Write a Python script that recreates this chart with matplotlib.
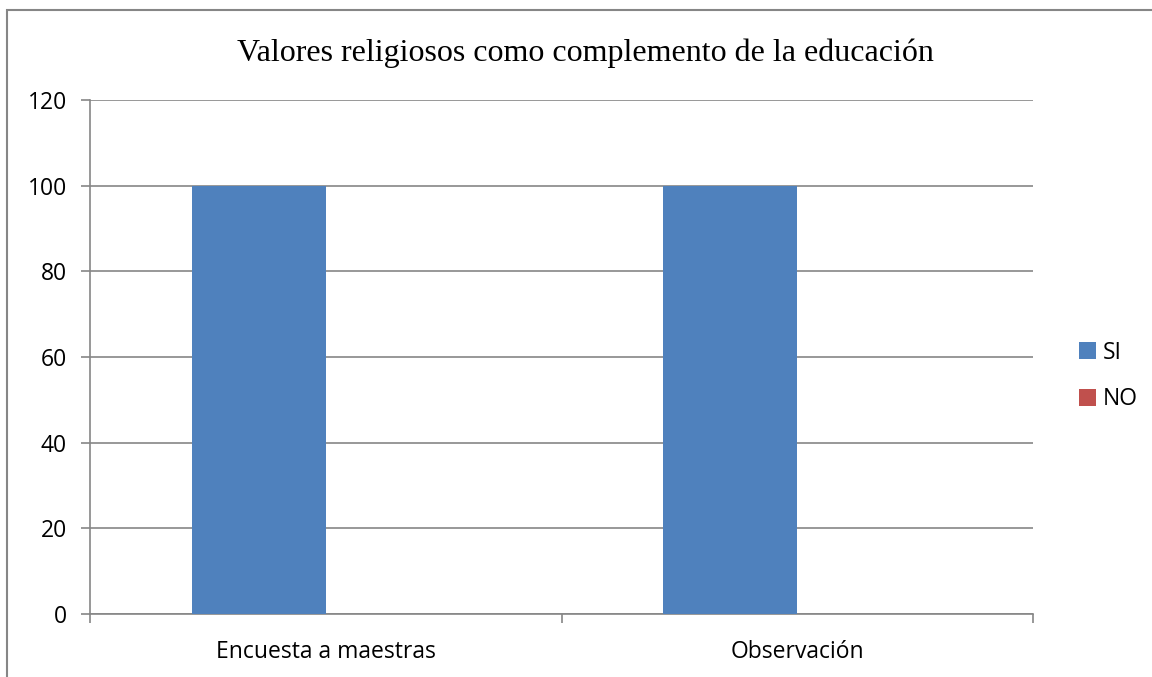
import numpy as np
import matplotlib.pyplot as plt
from matplotlib.patches import Rectangle

# datos
categorias = ["Encuesta a maestras", "Observación"]
si_vals = [100, 100]
no_vals = [0, 0]
series = ["SI", "NO"]
colores = ["#4F81BD", "#C0504D"]
titulo = "Valores religiosos como complemento de la educación"
yticks = [0, 20, 40, 60, 80, 100, 120]

W, H = 1152, 677
fig = plt.figure(figsize=(W / 100, H / 100), dpi=100)
fig.patch.set_facecolor("white")

# marco del grafico (sale por la derecha y abajo)
fig.patches.append(Rectangle((7 / W, -0.1), 1.2, 1 - 10 / H + 0.1,
                             transform=fig.transFigure, fill=False,
                             edgecolor="#868686", lw=1.5))

ax = fig.add_axes([90 / W, 63 / H, (1033 - 90) / W, (614 - 100) / H])

x = np.arange(len(categorias))
w = 0.284
ax.bar(x - w / 2, si_vals, w, color=colores[0], label=series[0], zorder=3)
ax.bar(x + w / 2, no_vals, w, color=colores[1], label=series[1], zorder=3)

ax.set_xlim(-0.5, len(categorias) - 0.5)
ax.set_ylim(0, 120)
ax.yaxis.grid(True, color="#868686", lw=1.2, zorder=0)

font = "Open Sans"
fs = 16.5
ax.set_yticks(yticks)
ax.set_yticklabels([str(v) for v in yticks], fontsize=fs, family=font)
ax.set_xticks(np.arange(len(categorias) + 1) - 0.5)
ax.set_xticklabels([])
ax.set_xticks(x, minor=True)
ax.set_xticklabels(categorias, minor=True, fontsize=fs, family=font)
ax.tick_params(axis="x", which="minor", length=0, pad=19)
ax.tick_params(axis="both", which="major", length=6.5, width=1.2,
               color="#868686", pad=10)

for s in ["top", "right"]:
    ax.spines[s].set_visible(False)
for s in ["left", "bottom"]:
    ax.spines[s].set_color("#868686")
    ax.spines[s].set_linewidth(1.2)

fig.text(585 / W, 1 - 53 / H, titulo, ha="center", va="center",
         fontsize=23, family="Liberation Serif")

leg = fig.legend(loc="center left", bbox_to_anchor=(1058 / W, 1 - 376 / H),
                 frameon=False, prop={"family": font, "size": fs},
                 handlelength=0.75, handleheight=0.75, handletextpad=0.3,
                 labelspacing=1.0)

fig.savefig("out.png", dpi=100)
